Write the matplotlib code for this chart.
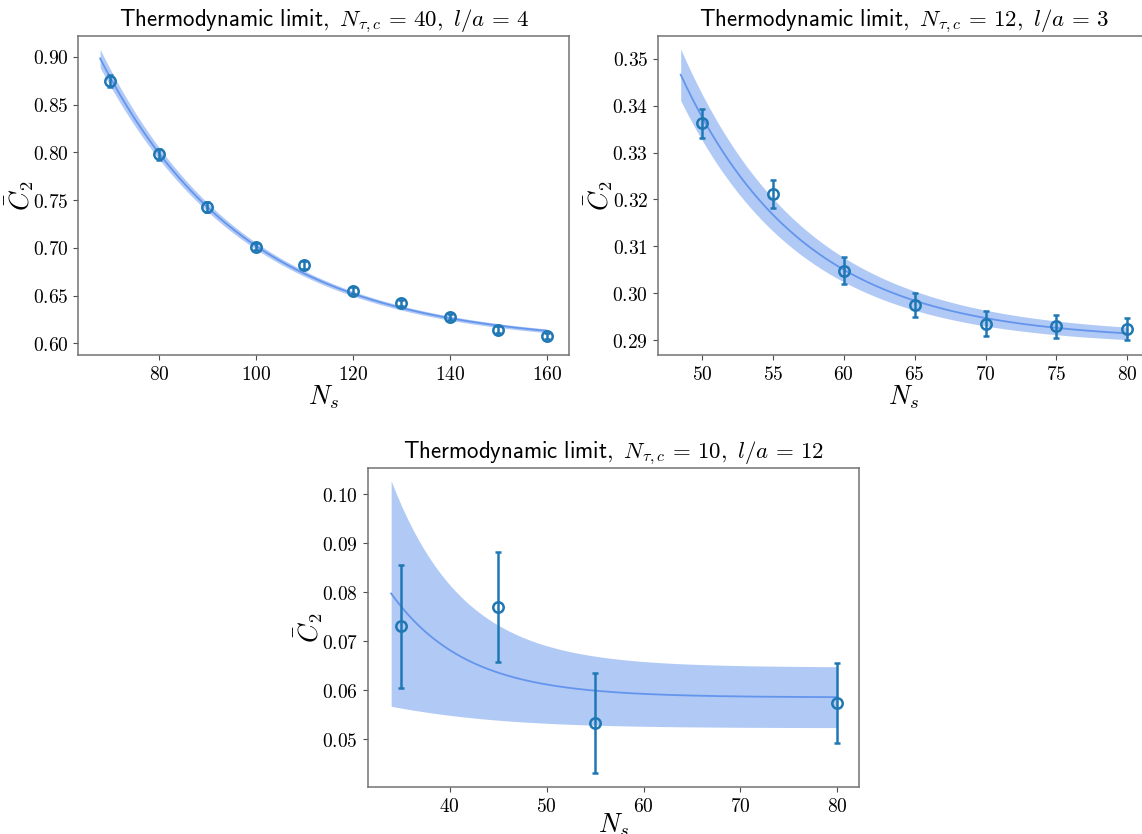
import numpy as np
import matplotlib
matplotlib.use('Agg')
import matplotlib.pyplot as plt
from matplotlib.ticker import FuncFormatter

plt.rcParams['mathtext.fontset'] = 'cm'

# top-left panel: N_tau,c = 40, l/a = 4
ns_1 = np.array([70, 80, 90, 100, 110, 120, 130, 140, 150, 160])
c2_1 = np.array([0.8745, 0.7978, 0.7430, 0.7012, 0.6820, 0.6551, 0.6422, 0.6276, 0.6143, 0.6077])
err_1 = np.array([0.0065, 0.0055, 0.0050, 0.0040, 0.0038, 0.0036, 0.0036, 0.0035, 0.0035, 0.0035])
fit_1 = [0.599, 2.851, 0.0332]        # a + b*exp(-c*N)
band_1 = [0.0019, 0.21, 0.0488]       # half width w0 + w1*exp(-k*N)

# top-right panel: N_tau,c = 12, l/a = 3
ns_2 = np.array([50, 55, 60, 65, 70, 75, 80])
c2_2 = np.array([0.3363, 0.3211, 0.3048, 0.2975, 0.2935, 0.2929, 0.2924])
err_2 = np.array([0.0031, 0.0030, 0.0029, 0.0026, 0.0026, 0.0024, 0.0023])
fit_2 = [0.2899, 15.0, 0.115]
band_2 = [0.0011, 0.41, 0.0935]

# bottom panel: N_tau,c = 10, l/a = 12
ns_3 = np.array([35, 45, 55, 80])
c2_3 = np.array([0.0730, 0.0770, 0.0532, 0.0574])
err_3 = np.array([0.0126, 0.0112, 0.0102, 0.0082])
fit_3 = [0.0585, 1.753, 0.13]
band_3 = [0.0062, 2.09, 0.142]

panels = [
    (ns_1, c2_1, err_1, fit_1, band_1, 40, 4, (63.4, 164.6), (0.5878, 0.9217), 0),
    (ns_2, c2_2, err_2, fit_2, band_2, 12, 3, (46.9, 81.6), (0.2868, 0.3549), 0),
    (ns_3, c2_3, err_3, fit_3, band_3, 10, 12, (31.53, 82.2), (0.04013, 0.10544), -3),
]

W, H = 1142, 834
fig = plt.figure(figsize=(W / 100, H / 100), dpi=100)
# axes boxes in pixels: left, top, width, height
boxes = [(78.3, 36, 491, 319), (658, 36, 492, 319), (367.7, 467.7, 491, 319.6)]

for (ns, c2, err, fit, band, ntc, la, xl, yl, xpad), (l, t, w, h) in zip(panels, boxes):
    ax = fig.add_axes([l / W, 1 - (t + h) / H, w / W, h / H])
    x = np.linspace(0.97 * ns.min(), ns.max(), 300)
    y = fit[0] + fit[1] * np.exp(-fit[2] * x)
    hw = band[0] + band[1] * np.exp(-band[2] * x)
    ax.fill_between(x, y - hw, y + hw, color='cornflowerblue', alpha=0.5, lw=0)
    ax.plot(x, y, color='cornflowerblue', lw=1.3)
    ax.errorbar(ns, c2, yerr=err, fmt='o', color='#1f77b4', mfc='none',
                ms=7.5, mew=1.8, elinewidth=1.8, capsize=2.5, capthick=1.8)
    ax.set_xlim(*xl)
    ax.set_ylim(*yl)
    ax.set_title(r'$\mathsf{Thermodynamic\ limit,}\ N_{\tau,c}\,=\,%d,\ l/a\,=\,%d$' % (ntc, la),
                 fontsize=16.5, pad=7)
    ax.set_xlabel(r'$N_s$', fontsize=19, labelpad=xpad)
    ax.set_ylabel(r'$\bar{C}_2$', fontsize=19, labelpad=-2)
    ax.yaxis.set_major_formatter(FuncFormatter(lambda v, p: r'$%.2f$' % v))
    ax.xaxis.set_major_formatter(FuncFormatter(lambda v, p: r'$%d$' % v))
    ax.tick_params(labelsize=14, color='0.3')
    for s in ax.spines.values():
        s.set_color('0.45')
        s.set_linewidth(1.1)

fig.savefig('out.png', dpi=100)
